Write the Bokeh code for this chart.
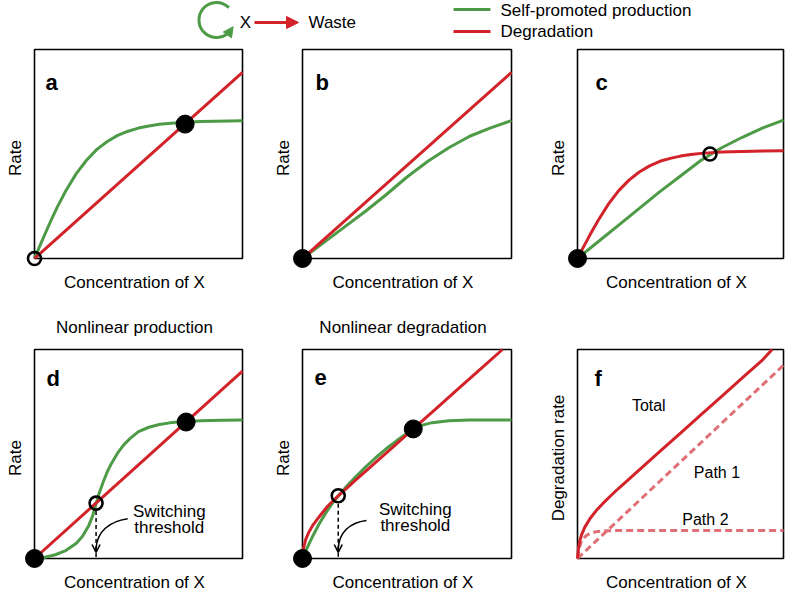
import math
from bokeh.plotting import figure
from bokeh.layouts import column, row
from bokeh.models import Range1d, Label, Arrow, NormalHead, OpenHead, FixedTicker
from bokeh.core.properties import value
from bokeh.embed import file_html
from bokeh.resources import INLINE

GREEN = "#4e9b47"
RED = "#d2232a"
LIGHT_RED = "#e07077"
FONT = "Liberation Sans"

# ---------------- data (axes normalised to 0..1) ----------------
# panel a: self-promoted production (saturating) vs linear degradation
a_prod_x = [0, .02, .05, .08, .11, .15, .2, .25, .3, .35, .4, .45, .5, .55, .6, .7, .8, 1.0]
a_prod_y = [0, .047, .116, .184, .247, .323, .405, .47, .522, .56, .589, .609, .624, .634, .642, .651, .656, .659]
a_deg_x = [0, 1.0]
a_deg_y = [0, .89]
a_stable_x, a_stable_y = [.724], [.643]
a_unstable_x, a_unstable_y = [0], [0]

# panel b
b_prod_x = [0, .1, .2, .3, .4, .5, .6, .7, .8, .9, 1.0]
b_prod_y = [0, .075, .15, .225, .305, .39, .465, .53, .585, .625, .66]
b_deg_x = [0, 1.0]
b_deg_y = [0, .89]
b_stable_x, b_stable_y = [0], [0]
b_unstable_x, b_unstable_y = [], []

# panel c
c_prod_x = [0, .1, .2, .3, .4, .5, .6, .7, .8, .9, 1.0]
c_prod_y = [0, .08, .16, .24, .32, .395, .47, .53, .58, .625, .662]
c_deg_x = [0, .03, .06, .1, .15, .2, .25, .3, .35, .4, .45, .5, .55, .6, .7, .8, .9, 1.0]
c_deg_y = [0, .057, .112, .182, .26, .325, .375, .414, .443, .465, .479, .49, .498, .503, .509, .512, .514, .515]
c_stable_x, c_stable_y = [0], [0]
c_unstable_x, c_unstable_y = [.643], [.50]

# panel d: nonlinear production
d_prod_x = [0, .05, .1, .15, .2, .23, .26, .28, .296, .31, .33, .35, .37, .4, .43, .46, .5, .55, .6, .65, .7, .8, .9, 1.0]
d_prod_y = [0, .006, .018, .038, .072, .105, .155, .205, .262, .31, .365, .415, .455, .505, .545, .575, .607, .628, .641, .649, .654, .659, .661, .663]
d_deg_x = [0, 1.0]
d_deg_y = [0, .896]
d_stable_x, d_stable_y = [0, .729], [0, .653]
d_unstable_x, d_unstable_y = [.296], [.265]
d_threshold = .296

# panel e: nonlinear degradation
e_prod_x = [0, .02, .05, .08, .11, .14, .171, .21, .25, .3, .35, .4, .45, .5, .53, .57, .62, .7, .8, 1.0]
e_prod_y = [0, .046, .109, .166, .216, .26, .299, .344, .386, .436, .482, .525, .563, .599, .618, .637, .65, .659, .663, .663]
e_deg_x = [0, .005, .015, .03, .05, .08, .12, .171, .25, .35, .45, .53, .65, .75, .85, .957]
e_deg_y = [0, .05, .09, .125, .16, .2, .25, .30, .371, .46, .549, .62, .727, .816, .905, 1.0]
e_stable_x, e_stable_y = [0, .53], [0, .62]
e_unstable_x, e_unstable_y = [.171], [.30]
e_threshold = .171

# panel f: degradation paths
f_total_x = [0, .005, .01, .02, .035, .06, .09, .12, .16, .2, .3, .4, .5, .6, .7, .8, .9, .945]
f_total_y = [0, .052, .081, .114, .149, .19, .228, .26, .299, .336, .424, .512, .6, .688, .776, .864, .952, 1.0]
f_path1_x = [0, 1.0]
f_path1_y = [0, .925]
f_path2_x = [0, .01, .02, .04, .06, .09, .12, .2, .4, 1.0]
f_path2_y = [0, .055, .085, .108, .12, .128, .132, .134, .134, .134]

# ---------------- helpers ----------------
PAD_L, PAD_B, PAD_R, PAD_T = 10, 10, 2, 2


def panel(bw, bh, bl, br, bt, bb, ylabel, title=None):
    kw = {}
    if title:
        kw["title"] = title
    p = figure(frame_width=bw + PAD_L + PAD_R, frame_height=bh + PAD_B + PAD_T,
               x_range=Range1d(-PAD_L / bw, 1 + PAD_R / bw),
               y_range=Range1d(-PAD_B / bh, 1 + PAD_T / bh),
               min_border_left=bl, min_border_right=br, min_border_top=bt, min_border_bottom=bb,
               toolbar_location=None, output_backend="svg", outline_line_color=None, **kw)
    for ax, lab in ((p.xaxis[0], "Concentration of X"), (p.yaxis[0], ylabel)):
        ax.ticker = FixedTicker(ticks=[])
        ax.axis_line_color = None
        ax.major_tick_out = 0
        ax.major_tick_in = 0
        ax.minor_tick_out = 0
        ax.minor_tick_in = 0
        ax.major_label_standoff = 0
        ax.axis_label = lab
        ax.axis_label_text_font = FONT
        ax.axis_label_text_font_size = "17px"
        ax.axis_label_text_font_style = "normal"
        ax.axis_label_text_color = "black"
    p.xaxis[0].axis_label_standoff = 4
    p.yaxis[0].axis_label_standoff = 0
    p.grid.visible = False
    if title:
        p.title.align = "center"
        p.title.text_font = FONT
        p.title.text_font_size = "17px"
        p.title.text_font_style = "normal"
        p.title.text_color = "black"
        p.title.standoff = 22
    p.quad(left=[0], right=[1], bottom=[0], top=[1], fill_color=None,
           line_color="black", line_width=1.6)
    p._bw, p._bh = bw, bh
    return p


def letter(p, txt, dx, dy):
    p.add_layout(Label(x=dx / p._bw, y=1 - dy / p._bh, text=txt, text_font=FONT,
                       text_font_size="22px", text_font_style="bold",
                       text_align="left", text_baseline="alphabetic", text_color="black"))


def curves(p, px, py, dx, dy):
    p.line(px, py, line_color=GREEN, line_width=3)
    p.line(dx, dy, line_color=RED, line_width=3)


def points(p, sx, sy, ux, uy):
    if sx:
        p.scatter(sx, sy, size=18, fill_color="black", line_color="black")
    if ux:
        p.scatter(ux, uy, size=13, fill_color=None, line_color="black", line_width=2.6)


def threshold(p, thr, cy, x0, y0, cx0, cy0, cx1, cy1, tx, ty1, ty2):
    p.segment(x0=[thr], y0=[cy - 8 / p._bh], x1=[thr], y1=[0], line_color="black",
              line_width=1.5, line_dash="4 3")
    yend = 6 / p._bh
    p.bezier(x0=[x0], y0=[y0], x1=[thr], y1=[yend + 4 / p._bh], cx0=[cx0], cy0=[cy0],
             cx1=[cx1], cy1=[cy1], line_color="black", line_width=1.6)
    p.add_layout(Arrow(end=OpenHead(size=8, line_width=1.6, line_color="black"),
                       x_start=thr, y_start=yend + 5 / p._bh, x_end=thr, y_end=yend,
                       line_color="black", line_width=1.6))
    for t, y in (("Switching", ty1), ("threshold", ty2)):
        p.text(x=[tx], y=[y], text=[t], text_font=value(FONT), text_font_size="17px",
               text_align="center", text_baseline="alphabetic", text_color="black")


# ---------------- header (schematic + legend) ----------------
hdr = figure(width=787, height=40, x_range=Range1d(0, 787), y_range=Range1d(-40, 0),
             min_border=0, toolbar_location=None, output_backend="svg",
             outline_line_color=None, x_axis_type=None, y_axis_type=None)
hdr.grid.visible = False
acx, acy, ar = 216, -19.5, 17.5
a_end = math.radians(-35)
hdr.arc(x=[acx], y=[acy], radius=ar, start_angle=math.radians(45), end_angle=a_end,
        direction="anticlock", line_color=GREEN, line_width=3)
ex, ey = acx + ar * math.cos(a_end), acy + ar * math.sin(a_end)
tx_, ty_ = -math.sin(a_end), math.cos(a_end)
hdr.add_layout(Arrow(end=NormalHead(size=10, fill_color=GREEN, line_color=GREEN),
                     x_start=ex, y_start=ey, x_end=ex + 4 * tx_, y_end=ey + 4 * ty_,
                     line_color=GREEN, line_width=3))
hdr.text(x=[245], y=[-22], text=["X"], text_font=value(FONT), text_font_size="17px",
         text_align="center", text_baseline="middle", text_color="black")
hdr.add_layout(Arrow(end=NormalHead(size=12, fill_color=RED, line_color=RED),
                     x_start=254, y_start=-22, x_end=298, y_end=-22,
                     line_color=RED, line_width=3))
hdr.text(x=[308], y=[-22], text=["Waste"], text_font=value(FONT), text_font_size="17px",
         text_align="left", text_baseline="middle", text_color="black")
hdr.segment(x0=[453, 453], y0=[-9, -31], x1=[490, 490], y1=[-9, -31],
            line_color=[GREEN, RED], line_width=3)
hdr.text(x=[500, 500], y=[-9.5, -31], text=["Self-promoted production", "Degradation"],
         text_font=value(FONT), text_font_size="17px", text_align="left",
         text_baseline="middle", text_color="black")

# ---------------- panels ----------------
# (box width, left border, right border) per column
COLS = [(208, 24, 24), (209, 24, 30), (206, 24, 2)]
BH = 209

pa = panel(COLS[0][0], BH, COLS[0][1], COLS[0][2], 7, 28, "Rate")
curves(pa, a_prod_x, a_prod_y, a_deg_x, a_deg_y)
points(pa, a_stable_x, a_stable_y, a_unstable_x, a_unstable_y)
letter(pa, "a", 11, 33)

pb = panel(COLS[1][0], BH, COLS[1][1], COLS[1][2], 7, 28, "Rate")
curves(pb, b_prod_x, b_prod_y, b_deg_x, b_deg_y)
points(pb, b_stable_x, b_stable_y, b_unstable_x, b_unstable_y)
letter(pb, "b", 13, 33)

pc = panel(COLS[2][0], BH, COLS[2][1], COLS[2][2], 7, 28, "Rate")
curves(pc, c_prod_x, c_prod_y, c_deg_x, c_deg_y)
points(pc, c_stable_x, c_stable_y, c_unstable_x, c_unstable_y)
letter(pc, "c", 18, 33)

pd = panel(COLS[0][0], BH, COLS[0][1], COLS[0][2], 51, 25, "Rate", "Nonlinear production")
curves(pd, d_prod_x, d_prod_y, d_deg_x, d_deg_y)
threshold(pd, d_threshold, d_unstable_y[0], .448, .19, .36, .177, .30, .13, .648, .226, .15)
points(pd, d_stable_x, d_stable_y, d_unstable_x, d_unstable_y)
letter(pd, "d", 12, 29)

pe = panel(COLS[1][0], BH, COLS[1][1], COLS[1][2], 51, 25, "Rate", "Nonlinear degradation")
curves(pe, e_prod_x, e_prod_y, e_deg_x, e_deg_y)
threshold(pe, e_threshold, e_unstable_y[0], .306, .182, .225, .172, .175, .124, .54, .233, .158)
points(pe, e_stable_x, e_stable_y, e_unstable_x, e_unstable_y)
letter(pe, "e", 12, 28)

pf = panel(COLS[2][0], BH, COLS[2][1], COLS[2][2], 51, 25, "Degradation rate")
pf.line(f_path1_x, f_path1_y, line_color=LIGHT_RED, line_width=3, line_dash="7 4")
pf.line(f_path2_x, f_path2_y, line_color=LIGHT_RED, line_width=3, line_dash="7 4")
pf.line(f_total_x, f_total_y, line_color=RED, line_width=3)
for t, x, y in (("Total", .346, .732), ("Path 1", .677, .413), ("Path 2", .621, .185)):
    pf.text(x=[x], y=[y], text=[t], text_font=value(FONT), text_font_size="16px",
            text_align="center", text_baseline="alphabetic", text_color="black")
letter(pf, "f", 17, 29)

layout = column(hdr, row(pa, pb, pc), row(pd, pe, pf))
open("out.html", "w").write(file_html(layout, INLINE))
